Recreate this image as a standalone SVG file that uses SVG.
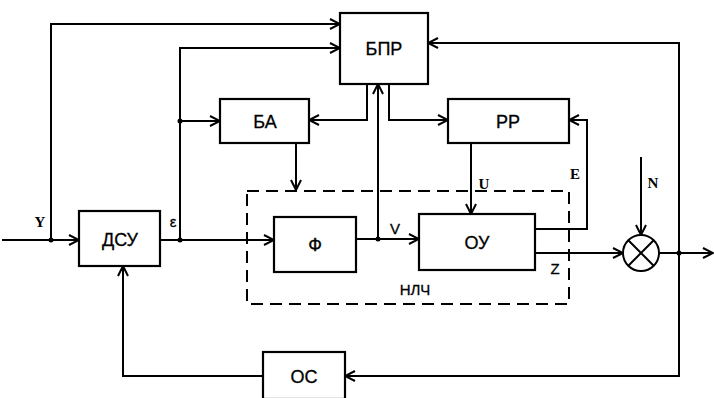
<svg xmlns="http://www.w3.org/2000/svg" width="714" height="398" viewBox="0 0 714 398">
<defs>
<marker id="arr" viewBox="0 0 12 12" refX="11" refY="6" markerWidth="12" markerHeight="12" markerUnits="userSpaceOnUse" orient="auto">
<path d="M1,1 L11,6 L1,11" fill="none" stroke="#000" stroke-width="2"/>
</marker>
<style>
.box{fill:#fff;stroke:#000;stroke-width:2.2}
.lbl{font-family:"Liberation Sans",Arial,sans-serif;font-size:18px;text-anchor:middle;fill:#000;stroke:#000;stroke-width:0.3}
.sig{font-family:"Liberation Serif","Times New Roman",serif;font-size:15px;font-weight:bold;text-anchor:middle;fill:#000}
.sigs{font-family:"Liberation Sans",Arial,sans-serif;font-size:15px;text-anchor:middle;fill:#000;stroke:#000;stroke-width:0.3}
.ln{fill:none;stroke:#000;stroke-width:2}
.ar{marker-end:url(#arr)}
.dash{fill:none;stroke:#000;stroke-width:2;stroke-dasharray:12,7}
</style>
</defs>
<rect width="714" height="398" fill="#fff"/>
<rect id="nlch" class="dash" x="247" y="191" width="322" height="113"/>
<g id="connectors">
<path class="ln ar" d="M2,240 H79"/>
<path class="ln ar" d="M51,240 V24 H340"/>
<path class="ln ar" d="M160,240 H274"/>
<path class="ln ar" d="M180,240 V48 H340"/>
<path class="ln ar" d="M180,121 H220"/>
<path class="ln ar" d="M296,143 V190"/>
<path class="ln ar" d="M367,84 V120 H309"/>
<path class="ln ar" d="M389,84 V120 H448"/>
<path class="ln ar" d="M356,239 H419"/>
<path class="ln ar" d="M378,239 V84"/>
<path class="ln ar" d="M471,143 V214"/>
<path class="ln ar" d="M535,229 H587 V120 H569"/>
<path class="ln ar" d="M535,253 H623"/>
<path class="ln ar" d="M641,157 V235"/>
<path class="ln ar" d="M659,253 H713"/>
<path class="ln ar" d="M679,253 V43 H428"/>
<path class="ln ar" d="M679,253 V376 H345"/>
<path class="ln ar" d="M263,376 H123 V266"/>
<circle cx="51" cy="240" r="2.5"/>
<circle cx="180" cy="240" r="2.5"/>
<circle cx="180" cy="121" r="2.5"/>
<circle cx="378" cy="239" r="2.5"/>
<circle cx="679" cy="253" r="2.5"/>
</g>
<g id="n-bpr"><rect class="box" x="340" y="13" width="88" height="71"/><text class="lbl" x="384" y="55">БПР</text></g>
<g id="n-ba"><rect class="box" x="220" y="99" width="89" height="44"/><text class="lbl" x="265" y="128">БА</text></g>
<g id="n-rr"><rect class="box" x="448" y="99" width="121" height="44"/><text class="lbl" x="508" y="128">РР</text></g>
<g id="n-dsu"><rect class="box" x="79" y="211" width="81" height="55"/><text class="lbl" x="120" y="246">ДСУ</text></g>
<g id="n-f"><rect class="box" x="274" y="217" width="82" height="55"/><text class="lbl" x="315" y="251">Ф</text></g>
<g id="n-ou"><rect class="box" x="419" y="214" width="116" height="56"/><text class="lbl" x="477" y="249">ОУ</text></g>
<g id="n-os"><rect class="box" x="263" y="352" width="82" height="47"/><text class="lbl" x="304" y="383">ОС</text></g>
<g id="n-sum"><circle cx="641" cy="253" r="18" fill="#fff" stroke="#000" stroke-width="2"/><path class="ln" d="M628.3,240.3 L653.7,265.7 M653.7,240.3 L628.3,265.7"/></g>
<g id="labels">
<text class="sig" x="40" y="227">Y</text>
<text class="sigs" x="173" y="227">ε</text>
<text class="sigs" x="395" y="234">V</text>
<text class="sig" x="484" y="189">U</text>
<text class="sig" x="575" y="179">E</text>
<text class="sig" x="653" y="188">N</text>
<text class="sigs" x="555" y="274">Z</text>
<text class="sigs" x="415" y="295">НЛЧ</text>
</g>
</svg>
